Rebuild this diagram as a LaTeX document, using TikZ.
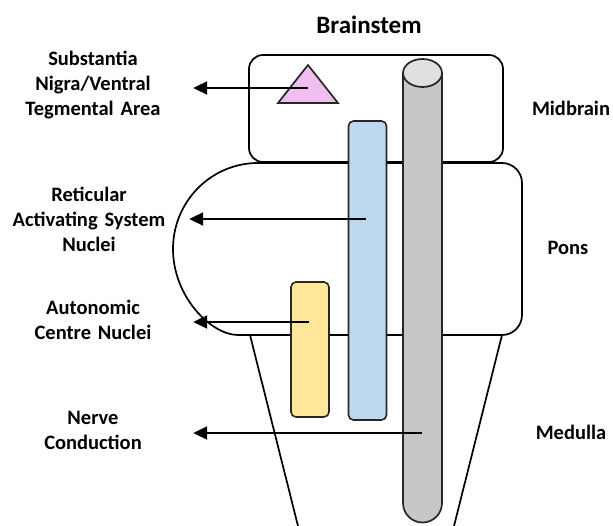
\documentclass[tikz,border=0pt]{standalone}
\usepackage{fontspec}
\setmainfont{Carlito}
\usetikzlibrary{arrows.meta, positioning}
\tikzset{
  organ/.style={draw,line width=1.7pt},
  bar/.style={rectangle,draw=black!85,line width=1.6pt,rounded corners=5pt,minimum width=38pt,inner sep=0pt},
  lbl/.style={align=center,text width=200pt,inner sep=0pt,font=\bfseries\fontsize{20.5}{25}\selectfont},
  region/.style={inner sep=0pt,font=\bfseries\fontsize{20.5}{25}\selectfont},
  line/.style={-{Triangle[length=14pt,width=13pt]},line width=2pt}
}

\begin{document}
\begin{tikzpicture}[x=1pt,y=-1pt]
\useasboundingbox (0,0) rectangle (613,526);
% outline of the three parts
\draw[organ, rounded corners=14pt] (249,55) rectangle (503,162);
\draw[organ] (258,163) [rounded corners=20pt] -- (522,163) -- (522,335) -- (258,335) [sharp corners] arc[start angle=90, end angle=270, x radius=85, y radius=86];
\draw[organ] (250,335) -- (298,526);
\draw[organ] (502,335) -- (454,526);

% cylinder for nerve conduction
\draw[organ, draw=black!85, fill=black!22] (403,73) -- (403,503) arc[start angle=180, end angle=0, radius=19.5] -- (442,73) -- cycle;
\draw[organ, draw=black!85, fill=black!12] (422.5,73) ellipse[x radius=19.5, y radius=14];
\coordinate (nerve) at (422,433);

\node[bar, fill={rgb,255:red,189;green,215;blue,238}, minimum height=299pt] (ras) at (367.5,270.5) {};
\coordinate (rasdot) at (366,219);
\node[bar, fill={rgb,255:red,255;green,230;blue,153}, minimum height=135pt] (acn) at (310,349.5) {};
\coordinate (acndot) at (309,322);
\draw[organ, draw=black!85, fill={rgb,255:red,240;green,190;blue,240}] (278,103) -- (308,65) -- (338,103) -- cycle;
\coordinate (snvta) at (308,88);

% labels
\node[region, font=\bfseries\fontsize{25}{30}\selectfont] (title) at (369,25) {Brainstem};
\node[lbl] (snvtalbl) at (93,85) {Substantia\\Nigra/Ventral\\Tegmental Area};
\node[lbl] (raslbl) at (89,219) {Reticular\\Activating System\\Nuclei};
\node[lbl] (acnlbl) at (93,320) {Autonomic\\Centre Nuclei};
\node[lbl] (nervelbl) at (93,430) {Nerve\\Conduction};
\node[region] (mid) at (571,108) {Midbrain};
\node[region] (pons) at (568,248) {Pons};
\node[region] (med) at (571,432) {Medulla};

\draw[line] (snvta) -- (snvta -| snvtalbl.east);
\draw[line] (rasdot) -- (rasdot -| raslbl.east);
\draw[line] (acndot) -- (acndot -| acnlbl.east);
\draw[line] (nerve) -- (nerve -| nervelbl.east);
\end{tikzpicture}
\end{document}
